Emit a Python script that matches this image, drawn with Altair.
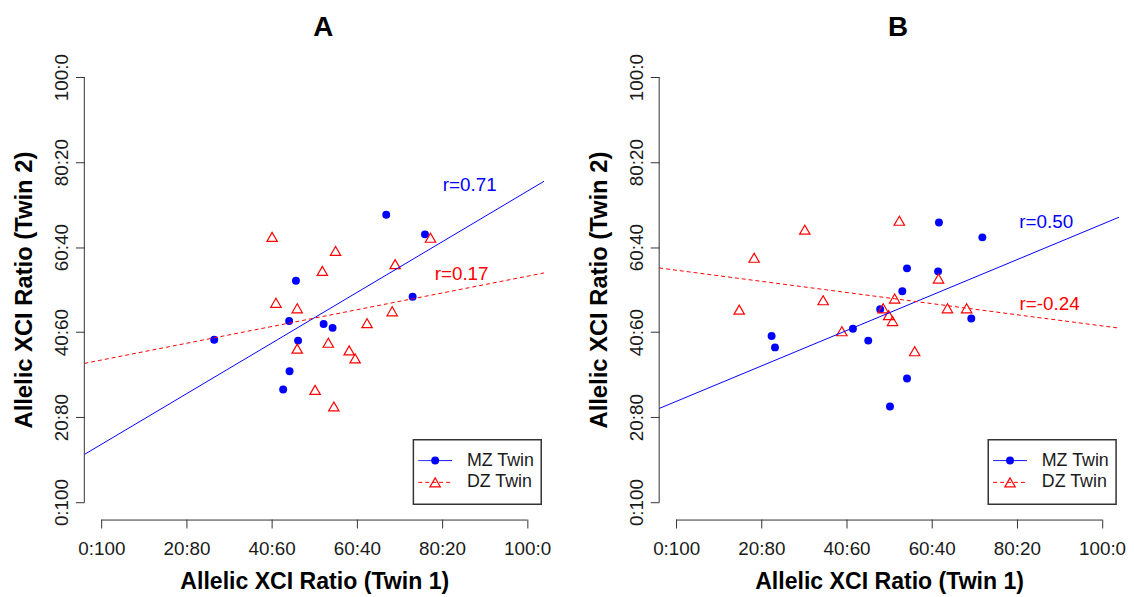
import altair as alt
import pandas as pd

FONT = "Liberation Sans"
BLUE = "#0000FF"
RED = "#FF0000"
AXC = "#333333"

# ---------------- data ----------------
tick_values = [0, 20, 40, 60, 80, 100]
tick_labels = ["0:100", "20:80", "40:60", "60:40", "80:20", "100:0"]
groups = ["MZ Twin", "DZ Twin"]

# Panel A
a_mz_x = [66.9, 76.0, 45.7, 73.1, 26.5, 44.1, 52.2, 54.3, 46.2, 44.2, 42.7]
a_mz_y = [67.6, 63.0, 52.1, 48.3, 38.2, 42.6, 41.9, 41.0, 38.0, 30.8, 26.5]
a_dz_x = [40.1, 55.0, 77.3, 51.9, 69.0, 41.0, 46.0, 68.3, 62.4, 53.3, 46.0, 58.2, 59.6, 50.2, 54.6]
a_dz_y = [62.4, 59.1, 62.2, 54.4, 56.0, 46.9, 45.6, 44.9, 42.1, 37.5, 36.1, 35.7, 33.8, 26.4, 22.5]
a_r_text = ["r=0.71", "r=0.17"]
a_r_x = [86.5, 84.6]
a_r_y = [74.6, 53.6]

# Panel B
b_mz_x = [61.7, 71.9, 54.2, 61.5, 53.1, 47.9, 69.3, 41.5, 22.4, 23.2, 45.1, 54.2, 50.2]
b_mz_y = [65.8, 62.3, 55.0, 54.3, 49.6, 45.4, 43.2, 40.8, 39.1, 36.4, 38.0, 29.1, 22.5]
b_dz_x = [52.4, 30.2, 18.3, 61.6, 14.8, 34.5, 51.3, 48.6, 49.9, 50.8, 63.7, 68.2, 38.9, 56.0]
b_dz_y = [66.2, 64.1, 57.5, 52.6, 45.3, 47.5, 47.9, 45.6, 44.0, 42.6, 45.6, 45.6, 40.2, 35.5]
b_r_text = ["r=0.50", "r=-0.24"]
b_r_x = [86.9, 87.7]
b_r_y = [65.8, 46.6]

# ---------------- layout ----------------
W, H = 464, 463
DOMAIN = [-4, 104]

label_expr = " : ".join(
    f"datum.value == {v} ? '{l}'" for v, l in zip(tick_values, tick_labels)
) + " : ''"


def panel(title, mz_x, mz_y, dz_x, dz_y, r_text, r_x, r_y):
    df = pd.DataFrame({
        "x": mz_x + dz_x,
        "y": mz_y + dz_y,
        "twin": [groups[0]] * len(mz_x) + [groups[1]] * len(dz_x),
    })
    xs = alt.Scale(domain=DOMAIN, nice=False, zero=False)
    ys = alt.Scale(domain=DOMAIN, nice=False, zero=False)
    common_axis = dict(
        values=tick_values, labelExpr=label_expr, domain=False, grid=False,
        ticks=True, tickSize=9, tickColor=AXC, tickWidth=1,
        labelFont=FONT, labelFontSize=19, labelColor="#1a1a1a",
        labelFlush=False, labelOverlap=False,
        titleFont=FONT, titleFontWeight="bold", titleColor="#000000",
    )
    xaxis = alt.Axis(title="Allelic XCI Ratio (Twin 1)", labelPadding=12,
                     titlePadding=12, titleFontSize=23.3, **common_axis)
    yaxis = alt.Axis(title="Allelic XCI Ratio (Twin 2)", labelAngle=-90,
                     labelAlign="center", labelBaseline="alphabetic",
                     labelPadding=8, titlePadding=16, titleFontSize=24, **common_axis)
    enc = dict(x=alt.X("x:Q", scale=xs, axis=xaxis), y=alt.Y("y:Q", scale=ys, axis=yaxis))

    base = alt.Chart(df)
    mz_pts = base.transform_filter(alt.datum.twin == groups[0]).mark_point(
        shape="circle", filled=True, size=64, color=BLUE, opacity=1).encode(**enc)
    dz_pts = base.transform_filter(alt.datum.twin == groups[1]).mark_point(
        shape="triangle-up", filled=False, size=110, color=RED, strokeWidth=1.2,
        opacity=1).encode(**enc)
    mz_fit = base.transform_filter(alt.datum.twin == groups[0]).transform_regression(
        "x", "y", extent=DOMAIN).mark_line(color=BLUE, strokeWidth=1, clip=True).encode(**enc)
    dz_fit = base.transform_filter(alt.datum.twin == groups[1]).transform_regression(
        "x", "y", extent=DOMAIN).mark_line(color=RED, strokeWidth=1, strokeDash=[4, 3],
                                           clip=True).encode(**enc)

    one = pd.DataFrame({"k": [0]})
    x_line = alt.Chart(one).mark_rule(color=AXC, strokeWidth=1).encode(
        x=alt.XDatum(tick_values[0]), x2=alt.X2Datum(tick_values[-1]), y=alt.value(H + 1))
    y_line = alt.Chart(one).mark_rule(color=AXC, strokeWidth=1).encode(
        y=alt.YDatum(tick_values[0]), y2=alt.Y2Datum(tick_values[-1]), x=alt.value(0))

    rdf = pd.DataFrame({"x": r_x, "y": r_y, "label": r_text})
    r_layers = []
    for i, col in enumerate([BLUE, RED]):
        r_layers.append(
            alt.Chart(rdf.iloc[[i]]).mark_text(
                font=FONT, fontSize=19, color=col, align="center", baseline="middle"
            ).encode(x=alt.X("x:Q", scale=xs, axis=xaxis),
                     y=alt.Y("y:Q", scale=ys, axis=yaxis), text="label:N")
        )

    # legend (inset, bottom-right)
    box = alt.Chart(one).mark_rect(fill="white", stroke=AXC, strokeWidth=1.5).encode(
        x=alt.value(332), x2=alt.value(461), y=alt.value(383), y2=alt.value(448))
    leg = [box]
    rows_y = [404, 426]
    styles = [
        dict(color=BLUE, dash=[1, 0], shape="circle", filled=True, size=64),
        dict(color=RED, dash=[4, 3], shape="triangle-up", filled=False, size=110),
    ]
    for g, yy, st in zip(groups, rows_y, styles):
        lab = pd.DataFrame({"label": [g]})
        leg.append(alt.Chart(lab).mark_rule(color=st["color"], strokeWidth=1,
                                            strokeDash=st["dash"]).encode(
            x=alt.value(337), x2=alt.value(371), y=alt.value(yy)))
        leg.append(alt.Chart(lab).mark_point(shape=st["shape"], filled=st["filled"],
                                             size=st["size"], color=st["color"],
                                             strokeWidth=1.2, opacity=1).encode(
            x=alt.value(354), y=alt.value(yy)))
        leg.append(alt.Chart(lab).mark_text(font=FONT, fontSize=18, color="#1a1a1a",
                                            align="left", baseline="middle").encode(
            x=alt.value(386), y=alt.value(yy), text="label:N"))

    return alt.layer(mz_pts, dz_pts, mz_fit, dz_fit, x_line, y_line, *r_layers, *leg).properties(
        width=W, height=H,
        title=alt.TitleParams(title, font=FONT, fontSize=28, fontWeight="bold",
                              color="#000000", anchor="middle", dx=9, offset=-10,
                              baseline="alphabetic"),
    )


pa = panel("A", a_mz_x, a_mz_y, a_dz_x, a_dz_y, a_r_text, a_r_x, a_r_y)
pb = panel("B", b_mz_x, b_mz_y, b_dz_x, b_dz_y, b_r_text, b_r_x, b_r_y)

chart = alt.hconcat(pa, pb, spacing=37).properties(
    padding={"left": 5, "top": 3, "right": 0, "bottom": 0},
    background="white",
).configure_view(stroke=None)

chart.save("out.html", embed_options={"renderer": "svg", "actions": False})
